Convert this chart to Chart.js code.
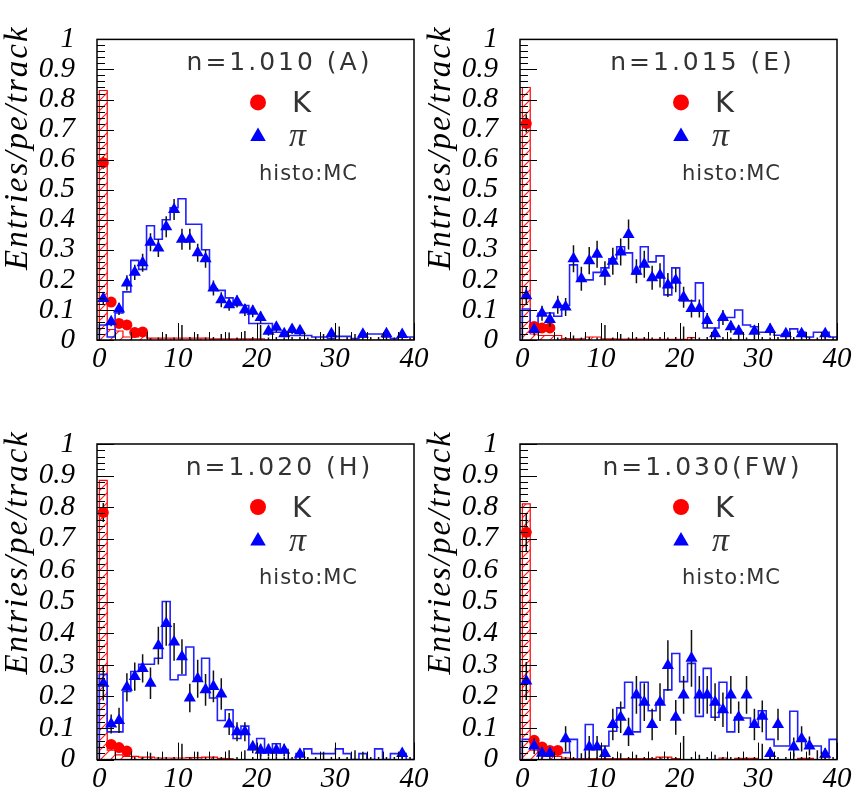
<!DOCTYPE html>
<html>
<head>
<meta charset="utf-8">
<script src="https://cdn.jsdelivr.net/npm/chart.js@4.4.0/dist/chart.umd.min.js"></script>
<style>
  html, body { margin: 0; padding: 0; background: #fff; }
  #wrap { position: relative; width: 856px; height: 799px; }
  #wrap canvas { position: absolute; left: 0; top: 0; }
</style>
</head>
<body>
<div id="wrap">
  <canvas id="cA" width="856" height="799"></canvas>
  <canvas id="cE" width="856" height="799"></canvas>
  <canvas id="cH" width="856" height="799"></canvas>
  <canvas id="cFW" width="856" height="799"></canvas>
</div>
<script>
// axis setup
const xTicks = [0, 10, 20, 30, 40];
const yTicks = [0, 0.1, 0.2, 0.3, 0.4, 0.5, 0.6, 0.7, 0.8, 0.9, 1];
const yTickLabels = ['0', '0.1', '0.2', '0.3', '0.4', '0.5', '0.6', '0.7', '0.8', '0.9', '1'];
const yTitle = 'Entries/pe/track';
const panelLabels = ['n=1.010 (A)', 'n=1.015 (E)', 'n=1.020 (H)', 'n=1.030(FW)'];
const legendLabels = ['K', '\u03c0', 'histo:MC'];

// n=1.010 (A)
const kMcA = [0.83, 0.035, 0.03, 0.01, 0.01, 0.015, 0.006, 0.006, 0.006, 0.006, 0.006, 0.006, 0.006, 0.006, 0.004, 0.004, 0.004, 0.004, 0.004, 0.004, 0.004, 0, 0, 0, 0, 0, 0, 0, 0, 0, 0, 0, 0, 0, 0, 0, 0, 0, 0, 0];
const piMcA = [0.05, 0.01, 0.09, 0.16, 0.265, 0.235, 0.38, 0.335, 0.40, 0.44, 0.47, 0.385, 0.385, 0.30, 0.17, 0.165, 0.14, 0.115, 0.115, 0.055, 0.055, 0.055, 0.026, 0.026, 0.015, 0.015, 0.015, 0.01, 0.01, 0.005, 0.012, 0.012, 0.005, 0.01, 0.02, 0.02, 0.01, 0.005, 0.01, 0.01];
const kDataA = [0.59, 0.126, 0.055, 0.05, 0.025, 0.027, 0, 0, 0, 0, 0, 0, 0, 0, 0, 0, 0, 0, 0, 0, 0, 0, 0, 0, 0, 0, 0, 0, 0, 0, 0, 0, 0, 0, 0, 0, 0, 0, 0, 0];
const kErrA = [0.02, 0.012, 0.01, 0.01, 0.008, 0.008, 0.006, 0.008, 0.02, 0.008, 0.05, 0.01, 0.02, 0.008, 0.01, 0.02, 0.025, 0.008, 0.03, 0.01, 0.05, 0.008, 0.01, 0.008, 0.01, 0.01, 0.008, 0.01, 0.02, 0.01, 0.045, 0.01, 0.02, 0.008, 0.01, 0.01, 0.01, 0.008, 0.008, 0.008];
const piDataA = [0.138, 0.061, 0.103, 0.19, 0.225, 0.257, 0.325, 0.306, 0.377, 0.434, 0.335, 0.335, 0.29, 0.27, 0.173, 0.134, 0.117, 0.128, 0.1, 0.096, 0.075, 0.029, 0.042, 0.021, 0.035, 0.031, null, null, null, 0.021, null, null, null, 0.019, null, null, 0.021, null, 0.018, null];
const piErrA = [0.02, 0.015, 0.02, 0.025, 0.025, 0.03, 0.03, 0.03, 0.035, 0.035, 0.035, 0.035, 0.03, 0.03, 0.025, 0.025, 0.02, 0.02, 0.02, 0.02, 0.02, 0.015, 0.015, 0.012, 0.015, 0.015, 0, 0, 0, 0.015, 0, 0, 0, 0.012, 0, 0, 0.012, 0, 0.01, 0];

// n=1.015 (E)
const kMcE = [0.84, 0.02, 0.015, 0.015, 0.015, 0.005, 0.004, 0.004, 0.01, 0.01, 0.004, 0.004, 0.003, 0.003, 0.003, 0.003, 0.002, 0.002, 0.002, 0.002, 0.002, 0.008, 0, 0, 0, 0, 0, 0, 0, 0, 0, 0, 0, 0, 0, 0, 0, 0, 0, 0];
const piMcE = [0.103, 0.04, 0.089, 0.09, 0.079, 0.115, 0.25, 0.2, 0.2, 0.225, 0.24, 0.27, 0.31, 0.29, 0.22, 0.31, 0.26, 0.28, 0.15, 0.24, 0.13, 0.13, 0.19, 0.04, 0.04, 0.07, 0.075, 0.10, 0.05, 0.044, 0.026, 0.026, 0.016, 0.02, 0.037, 0.026, 0.01, 0.026, 0.026, 0.01];
const kDataE = [0.72, 0.045, 0.04, 0.04, 0, 0, 0, 0, 0, 0, 0, 0, 0, 0, 0, 0, 0, 0, 0, 0, 0, 0, 0, 0, 0, 0, 0, 0, 0, 0, 0, 0, 0, 0, 0, 0, 0, 0, 0, 0];
const kErrE = [0.03, 0.015, 0.012, 0.012, 0.008, 0.01, 0.015, 0.008, 0.01, 0.008, 0.05, 0.008, 0.02, 0.008, 0.01, 0.01, 0.008, 0.01, 0.008, 0.01, 0.045, 0.01, 0.008, 0.01, 0.008, 0.01, 0.008, 0.01, 0.008, 0.01, 0.01, 0.008, 0.01, 0.008, 0.01, 0.008, 0.01, 0.008, 0.01, 0.01];
const piDataE = [0.147, 0.035, 0.089, 0.068, 0.117, 0.11, 0.27, 0.204, 0.264, 0.285, 0.222, 0.262, 0.293, 0.351, 0.229, 0.252, 0.207, 0.215, 0.183, 0.199, 0.142, 0.105, 0.105, 0.065, 0.021, 0.075, 0.044, 0.029, null, 0.029, null, 0.035, null, 0.021, null, 0.021, null, null, 0.021, null];
const piErrE = [0.03, 0.02, 0.025, 0.025, 0.03, 0.03, 0.045, 0.04, 0.045, 0.045, 0.04, 0.045, 0.045, 0.05, 0.04, 0.045, 0.04, 0.04, 0.04, 0.04, 0.035, 0.03, 0.03, 0.025, 0.02, 0.025, 0.02, 0.02, 0, 0.02, 0, 0.02, 0, 0.015, 0, 0.015, 0, 0, 0.015, 0];

// n=1.020 (H)
const kMcH = [0.885, 0.03, 0.015, 0.01, 0.01, 0.008, 0.008, 0.005, 0.005, 0.005, 0.005, 0.006, 0.006, 0.008, 0.008, 0.004, 0.003, 0, 0, 0, 0, 0, 0, 0, 0, 0, 0, 0, 0, 0, 0, 0, 0, 0, 0, 0, 0, 0, 0, 0];
const piMcH = [0.27, 0.088, 0.088, 0.216, 0.279, 0.302, 0.302, 0.321, 0.501, 0.253, 0.268, 0.357, 0.253, 0.321, 0.195, 0.124, 0.158, 0.067, 0.106, 0.032, 0.067, 0.032, 0.05, 0.032, 0, 0.019, 0.034, 0.019, 0.019, 0.019, 0.034, 0.019, 0, 0.019, 0, 0.034, 0, 0.019, 0.019, 0];
const kDataH = [0.783, 0.048, 0.038, 0.027, 0, 0, 0, 0, 0, 0, 0, 0, 0, 0, 0, 0, 0, 0, 0, 0, 0, 0, 0, 0, 0, 0, 0, 0, 0, 0, 0, 0, 0, 0, 0, 0, 0, 0, 0, 0];
const kErrH = [0.03, 0.012, 0.01, 0.01, 0.008, 0.008, 0.022, 0.008, 0.008, 0.008, 0.05, 0.008, 0.025, 0.008, 0.01, 0.008, 0.03, 0.008, 0.03, 0.008, 0.03, 0.008, 0.01, 0.008, 0.008, 0.008, 0.008, 0.008, 0.025, 0.008, 0.008, 0.008, 0.03, 0.025, 0.008, 0.008, 0.008, 0.008, 0.008, 0.008];
const piDataH = [0.242, 0.113, 0.124, 0.229, 0.263, 0.289, 0.242, 0.361, 0.431, 0.373, 0.326, 0.195, 0.256, 0.221, 0.232, 0.208, 0.113, 0.088, 0.088, 0.04, 0.03, 0.03, 0.03, 0.03, null, 0.017, null, null, null, null, null, null, null, null, null, null, null, null, 0.019, null];
const piErrH = [0.055, 0.03, 0.04, 0.045, 0.045, 0.045, 0.05, 0.06, 0.07, 0.06, 0.055, 0.045, 0.06, 0.05, 0.05, 0.05, 0.035, 0.03, 0.03, 0.02, 0.02, 0.02, 0.02, 0.02, 0, 0.015, 0, 0, 0, 0, 0, 0, 0, 0, 0, 0, 0, 0, 0.015, 0];

// n=1.030 (FW)
const kMcFW = [0.81, 0.03, 0.02, 0.01, 0.01, 0.005, 0.003, 0.003, 0.003, 0.003, 0.003, 0.003, 0.003, 0.003, 0.003, 0.003, 0.003, 0.008, 0.008, 0.003, 0, 0, 0, 0, 0, 0.005, 0, 0.004, 0.004, 0.004, 0, 0, 0, 0, 0, 0.004, 0.004, 0, 0.008, 0];
const piMcFW = [0.064, 0.064, 0.022, 0.022, 0.022, 0.022, 0.064, 0, 0.111, 0.043, 0.043, 0.09, 0.164, 0.245, 0.088, 0.245, 0.155, 0.181, 0.221, 0.336, 0.247, 0.305, 0.137, 0.289, 0.134, 0.245, 0.088, 0.134, 0.132, 0.111, 0.155, 0.064, 0.043, 0.043, 0.153, 0.064, 0.043, 0.043, 0.019, 0.064];
const kDataFW = [0.72, 0.061, 0.04, 0.029, 0.029, 0, 0, 0, 0, 0, 0, 0, 0, 0, 0, 0, 0, 0, 0, 0, 0, 0, 0, 0, 0, 0, 0, 0, 0, 0, 0, 0, 0, 0, 0, 0, 0, 0, 0, 0];
const kErrFW = [0.06, 0.015, 0.012, 0.01, 0.01, 0.008, 0.008, 0.02, 0.008, 0.008, 0.008, 0.008, 0.02, 0.008, 0.015, 0.008, 0.008, 0.008, 0.008, 0.008, 0.075, 0.008, 0.015, 0.008, 0.015, 0.008, 0.008, 0.008, 0.008, 0.008, 0.05, 0.008, 0.008, 0.008, 0.02, 0.008, 0.008, 0.03, 0.008, 0.008];
const piDataFW = [0.249, 0.043, 0.02, 0.02, null, 0.066, null, null, 0.04, 0.04, 0.019, 0.111, 0.134, 0.088, 0.205, 0.182, 0.111, 0.182, 0.298, 0.134, 0.205, 0.321, 0.205, 0.205, 0.182, 0.158, 0.205, 0.134, 0.205, 0.111, 0.137, 0.019, 0.111, null, 0.04, 0.066, 0.043, null, 0.017, null];
const piErrFW = [0.06, 0.025, 0.02, 0.02, 0, 0.04, 0, 0, 0.035, 0.035, 0.025, 0.05, 0.05, 0.045, 0.06, 0.06, 0.05, 0.06, 0.08, 0.055, 0.06, 0.09, 0.06, 0.06, 0.06, 0.055, 0.06, 0.05, 0.06, 0.05, 0.05, 0.02, 0.05, 0, 0.03, 0.04, 0.03, 0, 0.02, 0];

const PAGE_W = 856, PAGE_H = 799;
const Y_AXIS_W = 60, X_AXIS_H = 30;
const serif = "'Liberation Serif', 'Times New Roman', serif";
const sans = "'DejaVu Sans', 'Liberation Sans', sans-serif";

// histogram as step outline: bins of width 1 starting at 0
function histo(vals) {
	const pts = [{ x: 0, y: 0 }];
	vals.forEach((v, i) => pts.push({ x: i, y: v }));
	pts.push({ x: vals.length, y: 0 });
	return pts;
}
function points(vals) {
	return vals.map((v, i) => ({ x: i + 0.5, y: v }));
}

function hatch() {
	const c = document.createElement('canvas');
	c.width = 10;
	c.height = 10;
	const g = c.getContext('2d');
	g.strokeStyle = '#ff2020';
	g.lineWidth = 1.2;
	g.beginPath();
	g.moveTo(-1, 11); g.lineTo(11, -1);
	g.moveTo(-6, 6); g.lineTo(6, -6);
	g.moveTo(4, 16); g.lineTo(16, 4);
	g.stroke();
	return g.createPattern(c, 'repeat');
}

// text with extra space between letters (ROOT fonts are wide)
function spacedText(ctx, str, x, y, spacing, align) {
	const chars = Array.from(str);
	const widths = chars.map((c) => ctx.measureText(c).width);
	const total = widths.reduce((s, w) => s + w, 0) + spacing * (chars.length - 1);
	let cx = align === 'center' ? x - total / 2 : align === 'right' ? x - total : x;
	ctx.textAlign = 'left';
	chars.forEach((c, i) => {
		ctx.fillText(c, cx, y);
		cx += widths[i] + spacing;
	});
}

// vertical error bars, drawn just before the markers
const errorBars = {
	id: 'errorBars',
	beforeDatasetDraw(chart, args) {
		const ds = chart.data.datasets[args.index];
		if (!ds.errors) return;
		const { ctx, chartArea: a, scales: { y } } = chart;
		ctx.save();
		ctx.beginPath();
		ctx.rect(a.left, a.top, a.right - a.left, a.bottom - a.top);
		ctx.clip();
		ctx.strokeStyle = '#111';
		ctx.lineWidth = 1.5;
		args.meta.data.forEach((pt, i) => {
			const raw = ds.data[i];
			const e = ds.errors[i];
			if (raw.y === null || !e) return;
			ctx.beginPath();
			ctx.moveTo(pt.x, y.getPixelForValue(raw.y - e));
			ctx.lineTo(pt.x, y.getPixelForValue(raw.y + e));
			ctx.stroke();
		});
		ctx.restore();
	},
};

// frame + inward ticks like the original
const frame = {
	id: 'frame',
	afterDatasetsDraw(chart) {
		const { ctx, chartArea: a, scales: { x, y } } = chart;
		ctx.save();
		ctx.strokeStyle = '#000';
		ctx.lineWidth = 1;
		ctx.beginPath();
		for (let k = 0; k <= 50; k++) {
			const py = Math.round(y.getPixelForValue(k * 0.02)) + 0.5;
			const len = k % 5 === 0 ? 17 : 8;
			ctx.moveTo(a.left, py);
			ctx.lineTo(a.left + len, py);
		}
		for (let k = 0; k <= 20; k++) {
			const px = Math.round(x.getPixelForValue(k * 2)) + 0.5;
			const len = k % 5 === 0 ? 17 : 8;
			ctx.moveTo(px, a.bottom);
			ctx.lineTo(px, a.bottom - len);
		}
		ctx.stroke();
		ctx.lineWidth = 1.5;
		ctx.strokeRect(a.left, a.top, a.right - a.left, a.bottom - a.top);
		ctx.restore();
	},
};

const panelText = {
	id: 'panelText',
	afterDraw(chart, args, opts) {
		const { ctx, chartArea: a } = chart;
		ctx.save();
		ctx.fillStyle = '#333';
		ctx.textBaseline = 'middle';
		ctx.font = '25px ' + sans;
		spacedText(ctx, opts.label, a.left + 181, a.top + 24, 3, 'center');

		ctx.fillStyle = '#ff0000';
		Chart.helpers.drawPoint(ctx, { pointStyle: 'circle', radius: 8, borderWidth: 0 }, a.left + 161, a.top + 63);
		ctx.fillStyle = '#0000ff';
		Chart.helpers.drawPoint(ctx, { pointStyle: 'triangle', radius: 9, borderWidth: 0 }, a.left + 161, a.top + 97);

		ctx.fillStyle = '#333';
		ctx.textAlign = 'left';
		ctx.font = '29px ' + sans;
		ctx.fillText(legendLabels[0], a.left + 195, a.top + 65);
		ctx.font = 'italic 34px ' + serif;
		ctx.fillText(legendLabels[1], a.left + 192, a.top + 98);
		ctx.font = '21px ' + sans;
		spacedText(ctx, legendLabels[2], a.left + 162, a.top + 135, 1, 'left');

		// rotated y title, top-aligned as in ROOT
		ctx.fillStyle = '#000';
		ctx.font = 'italic 33px ' + serif;
		ctx.translate(a.left - 70, a.top - 12);
		ctx.rotate(-Math.PI / 2);
		ctx.textBaseline = 'alphabetic';
		spacedText(ctx, yTitle, 0, 0, 2, 'right');
		ctx.restore();
	},
};

function makePanel(id, area, label, kMc, piMc, kData, kErr, piData, piErr) {
	const tickFont = { family: serif, style: 'italic', size: 29 };
	return new Chart(document.getElementById(id), {
		type: 'line',
		data: {
			datasets: [
				{
					label: 'pi',
					data: points(piData),
					errors: piErr,
					showLine: false,
					pointStyle: 'triangle',
					pointRadius: (c) => (c.raw && c.raw.y > 0 ? 7 : 0),
					pointBackgroundColor: '#0000ff',
					pointBorderColor: '#0000ff',
					pointBorderWidth: 0,
				},
				{
					label: 'K',
					data: points(kData),
					errors: kErr,
					showLine: false,
					pointStyle: 'circle',
					pointRadius: (c) => (c.raw && c.raw.y > 0 ? 5.5 : 0),
					pointBackgroundColor: '#ff0000',
					pointBorderColor: '#ff0000',
					pointBorderWidth: 0,
				},
				{
					label: 'pi MC',
					data: histo(piMc),
					stepped: true,
					borderColor: '#1f1fff',
					borderWidth: 1.6,
					pointRadius: 0,
					fill: false,
				},
				{
					label: 'K MC',
					data: histo(kMc),
					stepped: true,
					borderColor: '#ff0000',
					borderWidth: 1.2,
					pointRadius: 0,
					fill: 'origin',
					backgroundColor: hatch(),
				},
			],
		},
		options: {
			responsive: false,
			animation: false,
			devicePixelRatio: 1,
			layout: {
				padding: {
					left: area.left - Y_AXIS_W,
					top: area.top,
					right: PAGE_W - area.right,
					bottom: PAGE_H - area.bottom - X_AXIS_H,
				},
			},
			plugins: {
				legend: { display: false },
				tooltip: { enabled: false },
				panelText: { label: label },
			},
			scales: {
				x: {
					type: 'linear',
					min: -0.3,
					max: 40,
					afterBuildTicks: (s) => { s.ticks = xTicks.map((v) => ({ value: v })); },
					afterFit: (s) => { s.height = X_AXIS_H; },
					grid: { display: false, drawTicks: false },
					border: { display: false },
					ticks: { font: tickFont, color: '#000', padding: 2, maxRotation: 0, autoSkip: false },
				},
				y: {
					type: 'linear',
					min: 0,
					max: 1,
					afterBuildTicks: (s) => { s.ticks = yTicks.map((v) => ({ value: v })); },
					afterFit: (s) => { s.width = Y_AXIS_W; },
					grid: { display: false, drawTicks: false },
					border: { display: false },
					ticks: {
						font: tickFont,
						color: '#000',
						padding: 22,
						autoSkip: false,
						callback: (v, i) => yTickLabels[i],
					},
				},
			},
		},
		plugins: [errorBars, frame, panelText],
	});
}

makePanel('cA', { left: 97, top: 22, right: 414, bottom: 340 }, panelLabels[0], kMcA, piMcA, kDataA, kErrA, piDataA, piErrA);
makePanel('cE', { left: 520, top: 22, right: 837, bottom: 340 }, panelLabels[1], kMcE, piMcE, kDataE, kErrE, piDataE, piErrE);
makePanel('cH', { left: 97, top: 444, right: 414, bottom: 762 }, panelLabels[2], kMcH, piMcH, kDataH, kErrH, piDataH, piErrH);
makePanel('cFW', { left: 520, top: 444, right: 837, bottom: 762 }, panelLabels[3], kMcFW, piMcFW, kDataFW, kErrFW, piDataFW, piErrFW);
</script>
</body>
</html>
